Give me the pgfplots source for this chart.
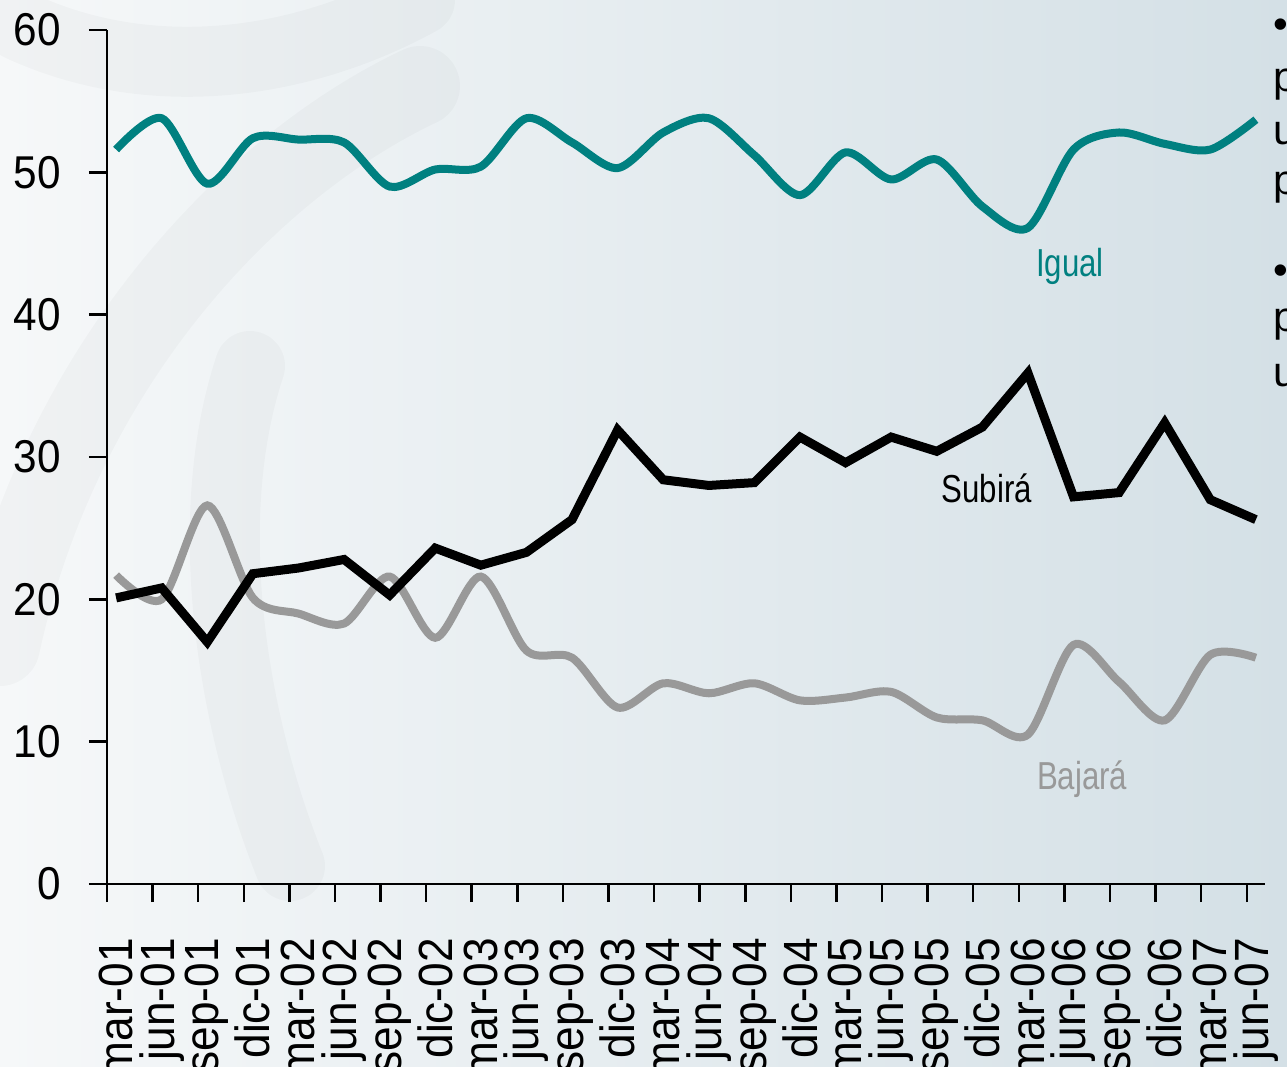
\documentclass[border=0pt]{standalone}
\usepackage{pgfplots}
\usepackage{pgfplotstable}
\pgfplotsset{compat=1.18}
\usepackage{fontspec}
\setmainfont{Liberation Sans}
\newfontfamily\narrowfont[FakeStretch=0.8]{Liberation Sans}
\newfontfamily\tickfont[FakeStretch=0.92]{Liberation Sans}
\definecolor{tealc}{RGB}{0,128,128}
\definecolor{grayc}{RGB}{153,153,153}
\definecolor{bgL}{RGB}{246,248,249}
\definecolor{bgR}{RGB}{212,224,230}

\pgfplotstableread{
i subira igual bajara
0 20.1 51.6 21.7
1 20.8 53.8 20.0
2 17.0 49.2 26.6
3 21.8 52.4 20.1
4 22.2 52.3 19.0
5 22.8 52.1 18.3
6 20.3 49.0 21.6
7 23.6 50.2 17.3
8 22.4 50.4 21.6
9 23.3 53.8 16.4
10 25.6 52.1 15.9
11 31.9 50.3 12.4
12 28.4 52.8 14.1
13 28.0 53.8 13.4
14 28.2 51.2 14.1
15 31.4 48.4 12.9
16 29.6 51.4 13.1
17 31.4 49.5 13.5
18 30.4 50.9 11.7
19 32.1 47.6 11.5
20 35.9 46.1 10.5
21 27.2 51.6 16.8
22 27.5 52.8 14.2
23 32.4 52.0 11.5
24 27.0 51.6 16.1
25 25.6 53.7 15.9
}\datatable

\begin{document}
\begin{tikzpicture}[x=1pt,y=1pt]
\useasboundingbox (0,0) rectangle (1287,1066);
\shade[left color=bgL, right color=bgR] (0,0) rectangle (1287,1066);
% faint watermark strokes
\begin{scope}[draw=black, opacity=0.022, line cap=round]
\draw[line width=70] (20,1040) .. controls (150,980) and (300,1000) .. (420,1066);
\draw[line width=80] (420,980) .. controls (250,900) and (60,700) .. (0,420);
\draw[line width=70] (250,700) .. controls (200,550) and (230,350) .. (290,200);
\end{scope}

\begin{axis}[
  at={(107pt,182pt)}, anchor=south west,
  scale only axis, width=1158pt, height=854pt,
  xmin=-0.2, xmax=25.2, ymin=0, ymax=60,
  axis x line=bottom, axis y line=left,
  axis line style={-, line width=2.5pt, black},
  tick align=outside,
  major tick length=18pt,
  tick style={line width=2.5pt, black},
  ytick={0,10,20,30,40,50,60},
  xtick={-0.2,0.8,1.8,2.8,3.8,4.8,5.8,6.8,7.8,8.8,9.8,10.8,11.8,12.8,13.8,14.8,15.8,16.8,17.8,18.8,19.8,20.8,21.8,22.8,23.8,24.8},
  xticklabels={mar-01,jun-01,sep-01,dic-01,mar-02,jun-02,sep-02,dic-02,mar-03,jun-03,sep-03,dic-03,mar-04,jun-04,sep-04,dic-04,mar-05,jun-05,sep-05,dic-05,mar-06,jun-06,sep-06,dic-06,mar-07,jun-07},
  /pgf/number format/assume math mode=true,
  yticklabel style={font=\tickfont\fontsize{46}{46}\selectfont, inner sep=0pt},
  xticklabel style={font=\tickfont\fontsize{48}{48}\selectfont, inner sep=0pt, xshift=9pt, rotate=90, anchor=east},
  xticklabel shift=36pt,
  yticklabel shift=28pt,
  clip=false,
]
\addplot[color=tealc, line width=8pt, smooth] table[x=i, y=igual] {\datatable};
\addplot[color=grayc, line width=8pt, smooth] table[x=i, y=bajara] {\datatable};
\addplot[color=black, line width=9pt, line join=miter, sharp plot] table[x=i, y=subira] {\datatable};
\node[anchor=base, font=\narrowfont\fontsize{39}{39}\selectfont, text=black] at (axis cs:19.10,26.77) {Subirá};
\node[anchor=base, font=\narrowfont\fontsize{39}{39}\selectfont, text=tealc] at (axis cs:20.92,42.65) {Igual};
\node[anchor=base, font=\narrowfont\fontsize{39}{39}\selectfont, text=grayc] at (axis cs:21.19,6.67) {Bajará};
\end{axis}

\begin{scope}[every node/.style={anchor=base west, inner sep=0pt, font=\fontsize{42}{42}\selectfont}]
\node at (1273,1027) {•};
\node at (1273,974) {p};
\node at (1273,921) {u};
\node at (1273,871) {p};
\node at (1273,781) {•};
\node at (1273,734) {p};
\node at (1273,679) {u};
\end{scope}
\end{tikzpicture}
\end{document}
